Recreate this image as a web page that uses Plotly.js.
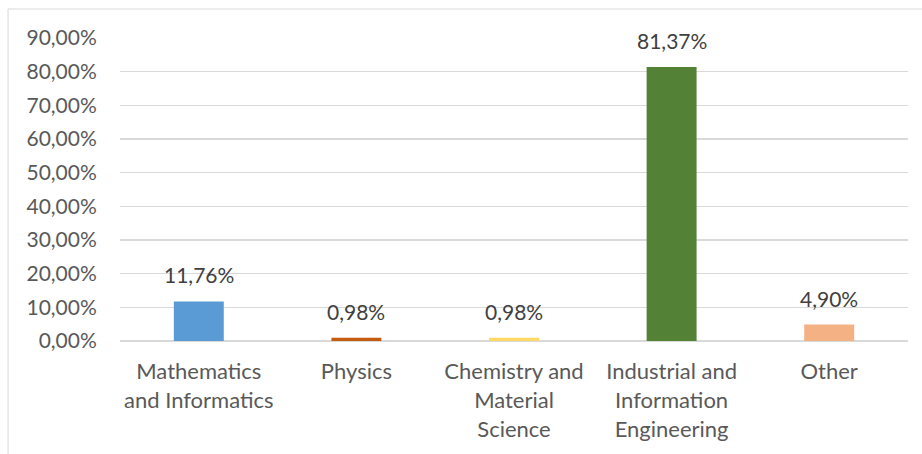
<!DOCTYPE html>
<html>
<head>
<meta charset="utf-8">
<script src="https://cdn.plot.ly/plotly-3.0.1.min.js"></script>
<style>
html,body{margin:0;padding:0;background:#fff;}
#chart{width:922px;height:454px;}
</style>
</head>
<body>
<div id="chart"></div>
<script>
const categories = ["Mathematics<br>and Informatics", "Physics", "Chemistry and<br>Material<br>Science", "Industrial and<br>Information<br>Engineering", "Other"];
const values = [0.1176, 0.0098, 0.0098, 0.8137, 0.0490];
const colors = ["#5B9BD5", "#C55A11", "#FFD966", "#538135", "#F4B183"];
const yTicks = [0, 0.1, 0.2, 0.3, 0.4, 0.5, 0.6, 0.7, 0.8, 0.9];

const FONT = "Lato, 'Open Sans', sans-serif";

const labels = values.map(v => (v * 100).toFixed(2).replace('.', ',') + '%');

const trace = {
  type: 'bar',
  x: categories,
  y: values,
  marker: {color: colors},
  width: 0.317,
  hoverinfo: 'none'
};

const annotations = categories.map((c, i) => ({
  x: c, y: values[i], xref: 'x', yref: 'y',
  text: labels[i], showarrow: false,
  yanchor: 'bottom', yshift: 12,
  font: {family: FONT, size: 21, color: '#404040'}
}));

const border = '#d9d9d9';
const shapes = [
  {type: 'line', xref: 'paper', yref: 'paper', x0: -0.1421, x1: -0.1421, y0: 1.0957, y1: -0.40, line: {color: border, width: 1}},
  {type: 'line', xref: 'paper', yref: 'paper', x0: -0.1421, x1: 1.1, y0: 1.0957, y1: 1.0957, line: {color: border, width: 1}}
];

const layout = {
  width: 922, height: 454,
  margin: {l: 120, r: 14, t: 38, b: 113},
  paper_bgcolor: '#fff', plot_bgcolor: '#fff',
  separators: ',.',
  showlegend: false,
  font: {family: FONT, size: 21, color: '#595959'},
  xaxis: {
    type: 'category',
    showgrid: false, zeroline: false, showline: false,
    ticks: 'outside', ticklen: 11, tickcolor: 'rgba(0,0,0,0)',
    tickfont: {family: FONT, size: 22, color: '#595959'},
    fixedrange: true
  },
  yaxis: {
    range: [0, 0.9],
    tickvals: yTicks,
    tickformat: '.2%',
    showgrid: true, gridcolor: border, gridwidth: 1.5,
    zeroline: true, zerolinecolor: border, zerolinewidth: 1.5,
    showline: false,
    ticks: 'outside', ticklen: 18, tickcolor: 'rgba(0,0,0,0)',
    tickfont: {family: FONT, size: 21, color: '#595959'},
    fixedrange: true
  },
  annotations: annotations,
  shapes: shapes
};

Plotly.newPlot('chart', [trace], layout, {displayModeBar: false, staticPlot: true});
</script>
</body>
</html>
